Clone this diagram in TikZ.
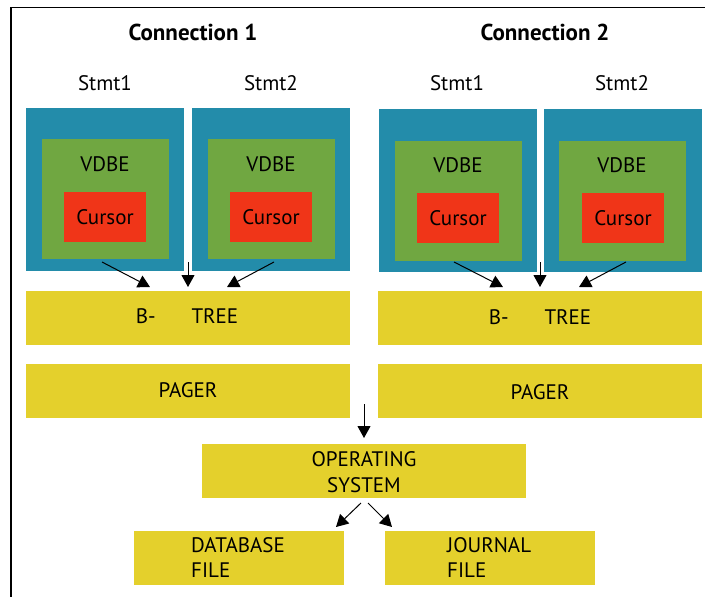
\documentclass[tikz,border=0pt]{standalone}
\usepackage{fontspec}
\setmainfont{PT Sans}
\usetikzlibrary{arrows.meta,calc}
\definecolor{cblue}{RGB}{35,140,170}
\definecolor{cgreen}{RGB}{112,167,65}
\definecolor{cred}{RGB}{240,53,24}
\definecolor{cyellow}{RGB}{228,208,44}
\tikzset{
  box/.style={inner sep=0pt, outer sep=0pt, draw=none},
  txt/.style={inner sep=0pt, font=\fontsize{21}{25}\selectfont, text=black},
  head/.style={inner sep=0pt, font=\fontsize{23}{26}\selectfont\bfseries},
  arr/.style={line width=1pt, -{Triangle[length=12pt,width=13pt]}},
}
\newcommand{\rbox}[6]{% name, color, x1, y1, x2, y2
  \node[box, fill=#2, minimum width={#5-#3}, minimum height={#6-#4}] (#1) at ({(#3+#5)/2},{(#4+#6)/2}) {};}
\begin{document}
\begin{tikzpicture}[x=1pt,y=-1pt]
\useasboundingbox (0,0) rectangle (705,597);
\draw[line width=1.6pt] (11,600) -- (11,7.5) -- (708,7.5);

% headings
\node[head] (c1) at (193,32) {Connection 1};
\node[head] (c2) at (545,32) {Connection 2};
\node[txt] (s11) at (105,83) {Stmt1};
\node[txt] (s12) at (271,83) {Stmt2};
\node[txt] (s21) at (457,83) {Stmt1};
\node[txt] (s22) at (622,83) {Stmt2};

% connection 1
\rbox{b11}{cblue}{26}{108}{184}{271}
\rbox{b12}{cblue}{192}{108}{350}{271}
\rbox{g11}{cgreen}{42}{139}{169}{259}
\rbox{g12}{cgreen}{208}{139}{335}{259}
\rbox{r11}{cred}{64}{192}{146}{242}
\rbox{r12}{cred}{230}{192}{312}{242}
\node[txt] (v11) at (105,164) {VDBE};
\node[txt] (v12) at (271,164) {VDBE};
\node[txt] at (r11.center) {Cursor};
\node[txt] at (r12.center) {Cursor};

% connection 2
\rbox{b21}{cblue}{379}{109}{537}{272}
\rbox{b22}{cblue}{544}{109}{702}{272}
\rbox{g21}{cgreen}{395}{141}{522}{261}
\rbox{g22}{cgreen}{559}{141}{686}{261}
\rbox{r21}{cred}{417}{193}{499}{243}
\rbox{r22}{cred}{582}{193}{664}{243}
\node[txt] (v21) at (458,165) {VDBE};
\node[txt] (v22) at (622,165) {VDBE};
\node[txt] at (r21.center) {Cursor};
\node[txt] at (r22.center) {Cursor};

% btree and pager
\rbox{bt1}{cyellow}{26}{291}{350}{345}
\rbox{bt2}{cyellow}{378}{291}{702}{345}
\rbox{pg1}{cyellow}{26}{364}{350}{418}
\rbox{pg2}{cyellow}{378}{364}{702}{418}
\node[txt] at (187,316) {B-\hspace{36pt}TREE};
\node[txt] at (540,317) {B-\hspace{36pt}TREE};
\node[txt] at (188,390) {PAGER};
\node[txt] at (540,392) {PAGER};

% os and files
\rbox{os}{cyellow}{202}{444}{526}{498}
\node[txt, align=center, font=\fontsize{21}{26}\selectfont] at (364,472) {OPERATING\\SYSTEM};
\rbox{db}{cyellow}{134}{531}{344}{585}
\rbox{jn}{cyellow}{385}{531}{595}{585}
\node[txt, align=left, anchor=west] at (191,558) {DATABASE\\FILE};
\node[txt, align=left, anchor=west] at (447,558) {JOURNAL\\FILE};

% arrow coordinates
\coordinate (a11s) at (102,262);
\coordinate (a11e) at (150,287);
\coordinate (a1ms) at (188,262);
\coordinate (a1me) at (188,287);
\coordinate (a12s) at (274,262);
\coordinate (a12e) at (227,287);
\coordinate (a21s) at (454,262);
\coordinate (a21e) at (503,287);
\coordinate (a2ms) at (540,262);
\coordinate (a2me) at (540,287);
\coordinate (a22s) at (626,262);
\coordinate (a22e) at (579,287);
\coordinate (pos) at (364,404);
\coordinate (poe) at (364,438);
\coordinate (odbs) at (361,503);
\coordinate (odbe) at (336,527);
\coordinate (ojns) at (368,503);
\coordinate (ojne) at (392,527);

\draw[arr] (a11s) -- (a11e);
\draw[arr] (a1ms) -- (a1me);
\draw[arr] (a12s) -- (a12e);
\draw[arr] (a21s) -- (a21e);
\draw[arr] (a2ms) -- (a2me);
\draw[arr] (a22s) -- (a22e);
\draw[arr] (pos) -- (poe);
\draw[arr] (odbs) -- (odbe);
\draw[arr] (ojns) -- (ojne);
\end{tikzpicture}
\end{document}
